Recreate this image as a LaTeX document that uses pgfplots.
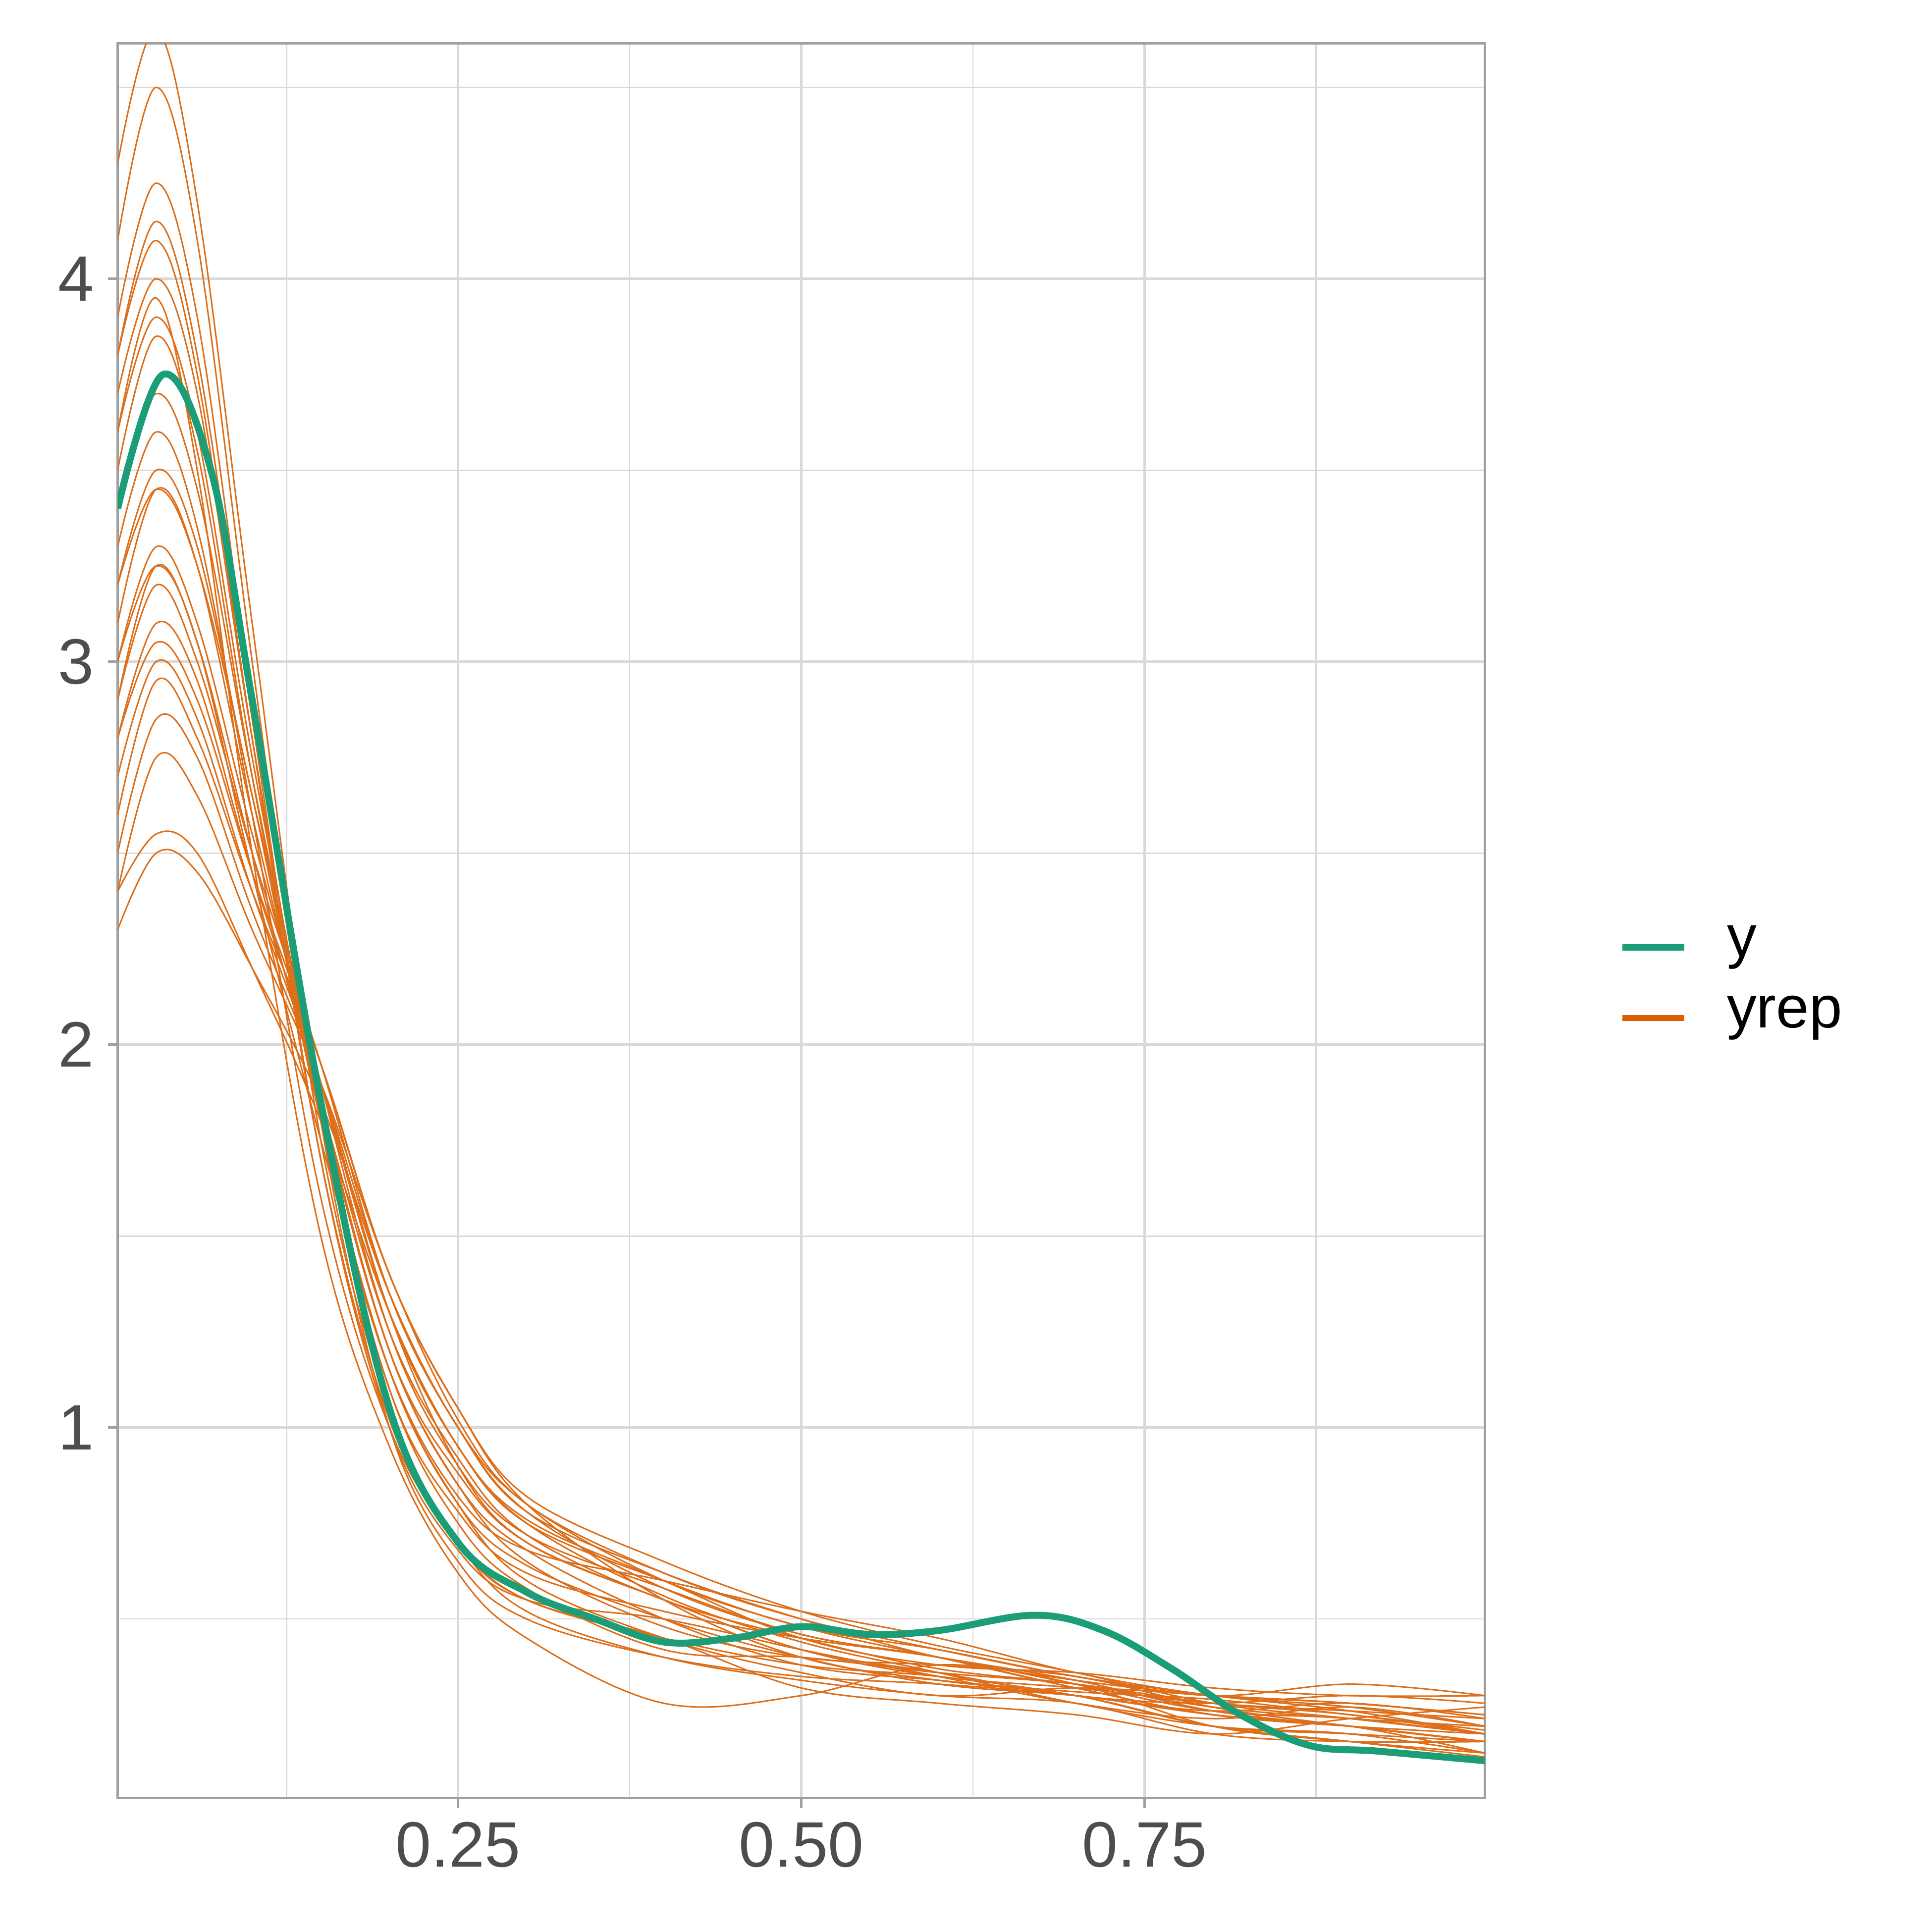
\documentclass[border=0pt]{standalone}
\usepackage{pgfplots}
\usepackage{pgfplotstable}
\pgfplotsset{compat=1.18}
\usepackage{fontspec}
\setmainfont{Liberation Sans}
\definecolor{ygreen}{HTML}{1B9E77}
\definecolor{yorange}{HTML}{D95F02}
\definecolor{frame}{HTML}{A0A0A0}
\definecolor{gridc}{HTML}{D9D9D9}
\definecolor{tickc}{HTML}{4D4D4D}
\pgfplotstableread{
x y1 y2 y3 y4 y5 y6 y7 y8 y9 y10 y11 y12 y13 y14 y15 y16 y17 y18 y19 y20 y21 y22 y23 y24 y25 y26
0.002 4.3 4.1 3.9 3.8 3.7 3.6 3.5 3.4 3.2 3.1 3.0 2.9 2.9 2.8 2.8 2.7 2.6 2.5 2.4 2.3 2.4 3.6 3.3 3.0 3.8 3.2
0.03 4.65 4.5 4.25 4.15 4.0 3.9 3.85 3.7 3.5 3.45 3.3 3.25 3.2 3.1 3.05 3.0 2.95 2.85 2.75 2.5 2.55 3.95 3.6 3.25 4.1 3.45
0.06 4.2 4.1 3.9 3.8 3.7 3.6 3.55 3.45 3.3 3.25 3.1 3.05 3.0 2.95 2.9 2.85 2.8 2.75 2.65 2.45 2.5 3.5 3.35 3.05 3.75 3.25
0.1 3.1 3.0 2.9 2.85 2.8 2.75 2.7 2.7 2.65 2.6 2.55 2.5 2.5 2.45 2.45 2.4 2.4 2.35 2.3 2.2 2.2 2.5 2.6 2.45 2.8 2.65
0.15 1.8 1.75 1.8 1.7 1.8 1.85 1.8 1.85 1.9 1.85 1.9 1.85 1.95 1.9 1.95 1.9 1.95 1.9 1.9 1.85 1.8 1.5 1.6 1.75 1.7 1.8
0.2 1.0 1.05 1.1 1.0 1.15 1.2 1.1 1.2 1.25 1.2 1.3 1.25 1.35 1.3 1.4 1.3 1.4 1.35 1.4 1.35 1.3 0.95 1.0 1.15 1.02 1.15
0.25 0.65 0.70 0.75 0.68 0.80 0.85 0.78 0.88 0.90 0.85 0.95 0.92 1.0 0.95 1.05 0.90 1.05 1.00 1.02 1.0 0.95 0.62 0.70 0.82 0.70 0.80
0.3 0.50 0.55 0.58 0.55 0.60 0.65 0.62 0.70 0.72 0.68 0.75 0.72 0.78 0.76 0.82 0.70 0.80 0.78 0.80 0.80 0.75 0.45 0.55 0.68 0.52 0.64
0.4 0.40 0.45 0.42 0.50 0.45 0.48 0.52 0.55 0.58 0.50 0.60 0.55 0.62 0.60 0.65 0.55 0.55 0.58 0.62 0.60 0.56 0.28 0.45 0.60 0.40 0.50
0.5 0.35 0.38 0.40 0.42 0.36 0.40 0.45 0.42 0.46 0.38 0.48 0.45 0.50 0.45 0.52 0.42 0.40 0.46 0.50 0.48 0.44 0.30 0.32 0.52 0.34 0.40
0.6 0.33 0.35 0.36 0.35 0.30 0.38 0.40 0.36 0.40 0.34 0.42 0.37 0.40 0.38 0.43 0.35 0.34 0.40 0.42 0.40 0.36 0.38 0.28 0.45 0.30 0.33
0.7 0.30 0.30 0.33 0.28 0.32 0.35 0.33 0.30 0.32 0.31 0.35 0.33 0.34 0.36 0.36 0.32 0.30 0.34 0.35 0.32 0.28 0.33 0.25 0.36 0.28 0.30
0.8 0.25 0.22 0.28 0.24 0.30 0.27 0.26 0.28 0.25 0.29 0.30 0.27 0.30 0.32 0.28 0.28 0.22 0.26 0.30 0.25 0.22 0.22 0.20 0.30 0.20 0.26
0.9 0.22 0.20 0.25 0.27 0.28 0.22 0.24 0.30 0.22 0.25 0.26 0.24 0.28 0.30 0.24 0.26 0.18 0.22 0.33 0.22 0.20 0.18 0.24 0.27 0.18 0.28
0.998 0.15 0.18 0.20 0.22 0.25 0.18 0.20 0.28 0.20 0.21 0.20 0.22 0.25 0.30 0.20 0.24 0.14 0.18 0.30 0.18 0.15 0.15 0.27 0.22 0.18 0.24
}\yrep
\pgfplotstableread{
x y
0.002 3.4
0.035 3.75
0.07 3.5
0.1 2.9
0.15 1.85
0.2 1.05
0.25 0.70
0.3 0.57
0.35 0.50
0.4 0.44
0.45 0.45
0.5 0.48
0.55 0.46
0.6 0.47
0.67 0.51
0.72 0.47
0.77 0.37
0.82 0.25
0.87 0.17
0.92 0.155
0.998 0.13
}\yobs
\begin{document}
\begin{tikzpicture}
\path (0,0) rectangle (780bp,780bp);
\begin{axis}[
  at={(47.5bp,54bp)}, anchor=south west,
  scale only axis, width=552bp, height=708.5bp,
  xmin=0.002, xmax=0.998, ymin=0.032, ymax=4.615,
  xtick={0.25,0.5,0.75}, xticklabels={0.25,0.50,0.75},
  ytick={1,2,3,4},
  minor xtick={0.125,0.375,0.625,0.875},
  minor ytick={0.5,1.5,2.5,3.5,4.5},
  grid=both,
  major grid style={gridc, line width=1bp},
  minor grid style={gridc, line width=0.5bp},
  axis line style={frame, line width=1bp},
  tick align=outside, major tick length=4bp, minor tick length=0pt,
  tick style={frame, line width=1bp},
  xtick pos=bottom, ytick pos=left,
  ticklabel style={font=\fontsize{26}{30}\selectfont, text=tickc},
  /pgf/number format/assume math mode=true,
  xticklabel style={yshift=-2bp}, yticklabel style={xshift=-2bp},
  clip=true,
]
\pgfplotsinvokeforeach{1,...,26}{
  \addplot[yorange!90!white, line width=0.6bp, smooth, tension=0.6] table[x=x,y=y#1]{\yrep};
}
\addplot[ygreen, line width=2.8bp, smooth, tension=0.6] table[x=x,y=y]{\yobs};
\end{axis}
\draw[ygreen, line width=2.5bp] (655bp,397.5bp) -- (680bp,397.5bp);
\draw[yorange, line width=2.5bp] (655bp,369bp) -- (680bp,369bp);
\node[anchor=west, font=\fontsize{24}{28}\selectfont, inner sep=0pt] at (697bp,397.5bp) {y};
\node[anchor=west, font=\fontsize{24}{28}\selectfont, inner sep=0pt] at (697bp,369bp) {yrep};
\end{tikzpicture}
\end{document}
